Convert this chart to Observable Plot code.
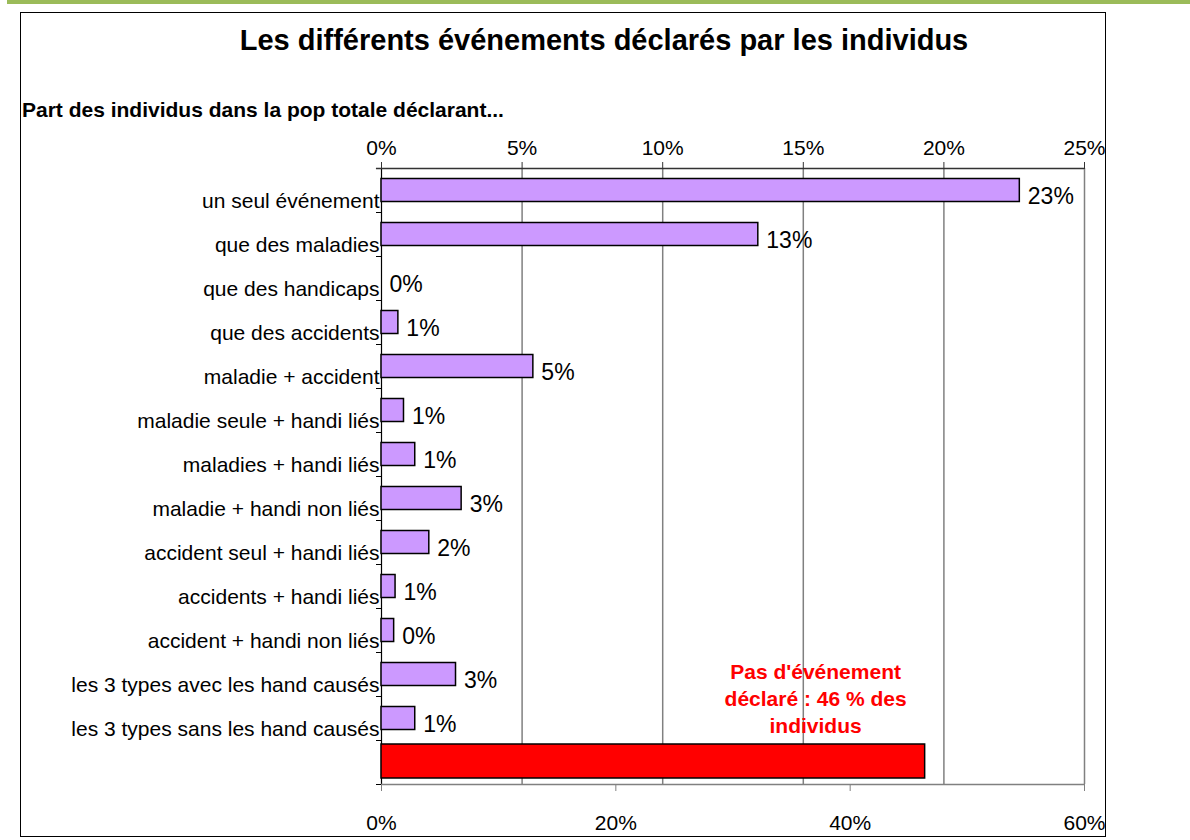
<!DOCTYPE html>
<html>
<head>
<meta charset="utf-8">
<script src="https://cdn.jsdelivr.net/npm/d3@7"></script>
<script src="https://cdn.jsdelivr.net/npm/@observablehq/plot@0.6"></script>
<style>
  html, body { margin: 0; padding: 0; background: #fff; }
  #wrap { position: relative; width: 1190px; height: 840px; overflow: hidden; font-family: "Liberation Sans", Arial, sans-serif; }
  #band { position: absolute; left: 7px; top: 0; width: 1183px; height: 4px; background: #9BBB59; }
  #box { position: absolute; left: 20px; top: 12px; width: 1084px; height: 823px; border: 1px solid #000; }
  #title { position: absolute; left: 0; width: 1208px; top: 26px; text-align: center; font-weight: bold; font-size: 29px; line-height: 1; }
  #subtitle { position: absolute; left: 22px; top: 99px; font-weight: bold; font-size: 21px; line-height: 1; }
  .layer { position: absolute; left: 0; top: 0; }
  .layer svg { background: transparent !important; }
</style>
</head>
<body>
<div id="wrap">
  <div id="band"></div>
  <div id="box"></div>
  <div id="title">Les différents événements déclarés par les individus</div>
  <div id="subtitle">Part des individus dans la pop totale déclarant...</div>
  <div id="main" class="layer"></div>
  <div id="over" class="layer"></div>
</div>
<script>
// categories (top to bottom)
const categories = [
  "un seul événement",
  "que des maladies",
  "que des handicaps",
  "que des accidents",
  "maladie + accident",
  "maladie seule + handi liés",
  "maladies + handi liés",
  "maladie + handi non liés",
  "accident seul + handi liés",
  "accidents + handi liés",
  "accident + handi non liés",
  "les 3 types avec les hand causés",
  "les 3 types sans les hand causés"
];
// share of individuals (%) - top axis 0–25 %
const shares = [22.7, 13.4, 0.0, 0.6, 5.4, 0.8, 1.2, 2.85, 1.7, 0.5, 0.45, 2.65, 1.2];
// no event declared (%) - bottom axis 0–60 %
const noEventKey = "__none__";
const noEventValue = 46.4;
const noEventLabel = "Pas d'événement\ndéclaré : 46 % des\nindividus";
// tick labels
const topTicks = [0, 5, 10, 15, 20, 25];
const bottomTicks = [0, 20, 40, 60];

const domainY = [...categories, noEventKey];
const mainData = categories.map((c, i) => ({cat: c, value: shares[i]}));
const redData = [{cat: noEventKey, value: noEventValue, label: noEventLabel}];

const W = 1190, H = 840;
const margins = {marginLeft: 381, marginRight: 106, marginTop: 168, marginBottom: 56};
const half = (H - margins.marginTop - margins.marginBottom) / domainY.length / 2;
const font = "Liberation Sans, Arial, sans-serif";

const main = Plot.plot({
  width: W, height: H, ...margins,
  style: {fontFamily: font, fontSize: "21px", color: "#000", background: "transparent"},
  x: {domain: [0, 25], label: null},
  y: {domain: domainY, padding: 0, label: null},
  marks: [
    Plot.ruleX(topTicks.filter(d => d > 0), {stroke: "#808080", strokeWidth: 1.5}),
    Plot.ruleX([0], {stroke: "#000", strokeWidth: 1.2}),
    Plot.ruleY([domainY[0]], {x1: -0.18, x2: 25, dy: -half, stroke: "#333", strokeWidth: 1.5}),
    Plot.axisY({tickSize: 5, dy: half, tickFormat: () => "", stroke: "#000", label: null}),
    Plot.axisY({tickSize: 0, tickPadding: 2, dy: 10.5, fontSize: 21, tickFormat: d => d === noEventKey ? "" : d, label: null}),
    Plot.axisX({anchor: "top", ticks: topTicks, tickSize: 7, tickPadding: 7, fontSize: 21, tickFormat: d => d + "%", stroke: "#333", label: null}),
    Plot.barX(mainData, {x: "value", y: "cat", fill: "#CC99FF", stroke: "#000", strokeWidth: 1.5, insetTop: 10.5, insetBottom: 10.5}),
    Plot.text(mainData, {x: "value", y: "cat", text: d => Math.round(d.value) + "%", textAnchor: "start", dx: 8, dy: 6.5, fontSize: 23})
  ]
});
document.getElementById("main").appendChild(main);

const over = Plot.plot({
  width: W, height: H, ...margins,
  style: {fontFamily: font, fontSize: "21px", color: "#000", background: "transparent"},
  x: {domain: [0, 60], label: null},
  y: {domain: domainY, padding: 0, axis: null},
  marks: [
    Plot.barX(redData, {x: "value", y: "cat", fill: "#FF0000", stroke: "#000", strokeWidth: 1.5, insetTop: 4, insetBottom: 6}),
    Plot.ruleY(redData, {y: "cat", x1: 0, x2: 60, dy: half, stroke: "#808080", strokeWidth: 1.5}),
    Plot.axisX({anchor: "bottom", ticks: bottomTicks, tickSize: 7, tickPadding: 24, fontSize: 21, tickFormat: d => d + "%", stroke: "#808080", label: null}),
    Plot.text(redData, {x: 37.05, y: "cat", text: "label", fill: "#FF0000", fontWeight: "bold", fontSize: 21, lineHeight: 1.29, dy: -65})
  ]
});
document.getElementById("over").appendChild(over);
</script>
</body>
</html>
